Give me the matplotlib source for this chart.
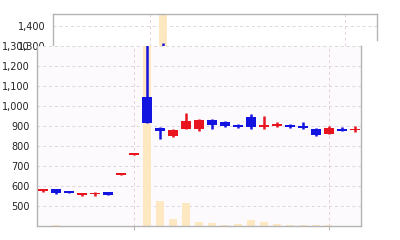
import matplotlib.pyplot as plt
import matplotlib.ticker as mticker
import numpy as np

opens  = [575, 585, 570, 553, 558, 568, 655, 754, 1045, 890, 850, 887, 885, 932, 920, 907, 945, 897, 900, 907, 902, 885, 862, 883, 878]
highs  = [585, 587, 573, 567, 571, 569, 660, 759, 1315, 893, 883, 966, 935, 935, 925, 910, 960, 948, 922, 910, 922, 890, 900, 895, 898]
lows   = [570, 560, 563, 549, 552, 553, 655, 754, 913, 837, 847, 885, 877, 883, 897, 888, 885, 883, 897, 892, 887, 850, 858, 873, 872]
closes = [579, 563, 565, 565, 563, 555, 660, 759, 913, 877, 880, 925, 932, 903, 900, 895, 893, 905, 912, 895, 890, 857, 890, 877, 885]
volumes = [10, 20, 5, 5, 5, 10, 5, 5, 5000, 506, 140, 460, 80, 66, 20, 46, 126, 74, 40, 20, 30, 30, 20, 10, 10]
vgrid = [7, 22]

up_col = '#e8141e'
down_col = '#1414e0'
vol_col = '#fde8c2'

x = np.arange(len(opens))
colors = [up_col if c >= o else down_col for o, c in zip(opens, closes)]
bottoms = [min(o, c) for o, c in zip(opens, closes)]
heights = [max(abs(c - o), 9) for o, c in zip(opens, closes)]

fig = plt.figure(figsize=(4, 2.4), dpi=100, facecolor='white')


def draw_chart(ax, ylo, yhi, vlo, vhi, yticks):
    ax_vol = ax.twinx()
    ax_vol.set_ylim(vlo, vhi)
    ax_vol.axis('off')
    ax.bar(x, volumes, width=0.6, color=vol_col, transform=ax_vol.transData, zorder=1)
    ax.vlines(x, lows, highs, colors=colors, linewidth=1.8, zorder=2)
    ax.bar(x, heights, bottom=bottoms, width=0.77, color=colors, zorder=3)
    ax.set_xlim(-0.5, len(x) - 0.5)
    ax.set_ylim(ylo, yhi)
    ax.set_yticks(yticks)
    ax.yaxis.set_major_formatter(mticker.FuncFormatter(lambda v, p: '{:,}'.format(int(v))))
    ax.set_xticks(vgrid)
    ax.set_xticklabels([])
    ax.grid(axis='y', linestyle=(0, (3, 3)), color='#dcd6dc', linewidth=0.7, zorder=0)
    ax.grid(axis='x', linestyle=(0, (3, 3)), color='#e8cce0', linewidth=0.7, zorder=0)
    ax.set_axisbelow(True)
    ax.tick_params(axis='y', length=0, pad=5, labelsize=7, labelcolor='#222222')
    ax.tick_params(axis='x', length=3, color='#b8b8b8')
    for s in ax.spines.values():
        s.set_color('#b4b4b4')
        s.set_linewidth(1)


# top strip (shifted copy)
ax_top = fig.add_axes([53 / 400, 1 - 46 / 240, 324 / 400, 32 / 240])
ax_top.set_facecolor('white')
draw_chart(ax_top, 1300, 1460, 3600, 4240, [1300, 1400])
ax_top.spines['bottom'].set_visible(False)
ax_top.spines['right'].set_bounds(1330, 1460)
ax_top.tick_params(axis='x', length=0)

# main chart
ax = fig.add_axes([37 / 400, 1 - 226 / 240, 324 / 400, 180 / 240])
ax.set_facecolor('#fdfafd')
draw_chart(ax, 400, 1300, 0, 3600, list(range(500, 1400, 100)))
ax.spines['top'].set_visible(False)

fig.savefig('out.png', dpi=100, facecolor=fig.get_facecolor())
